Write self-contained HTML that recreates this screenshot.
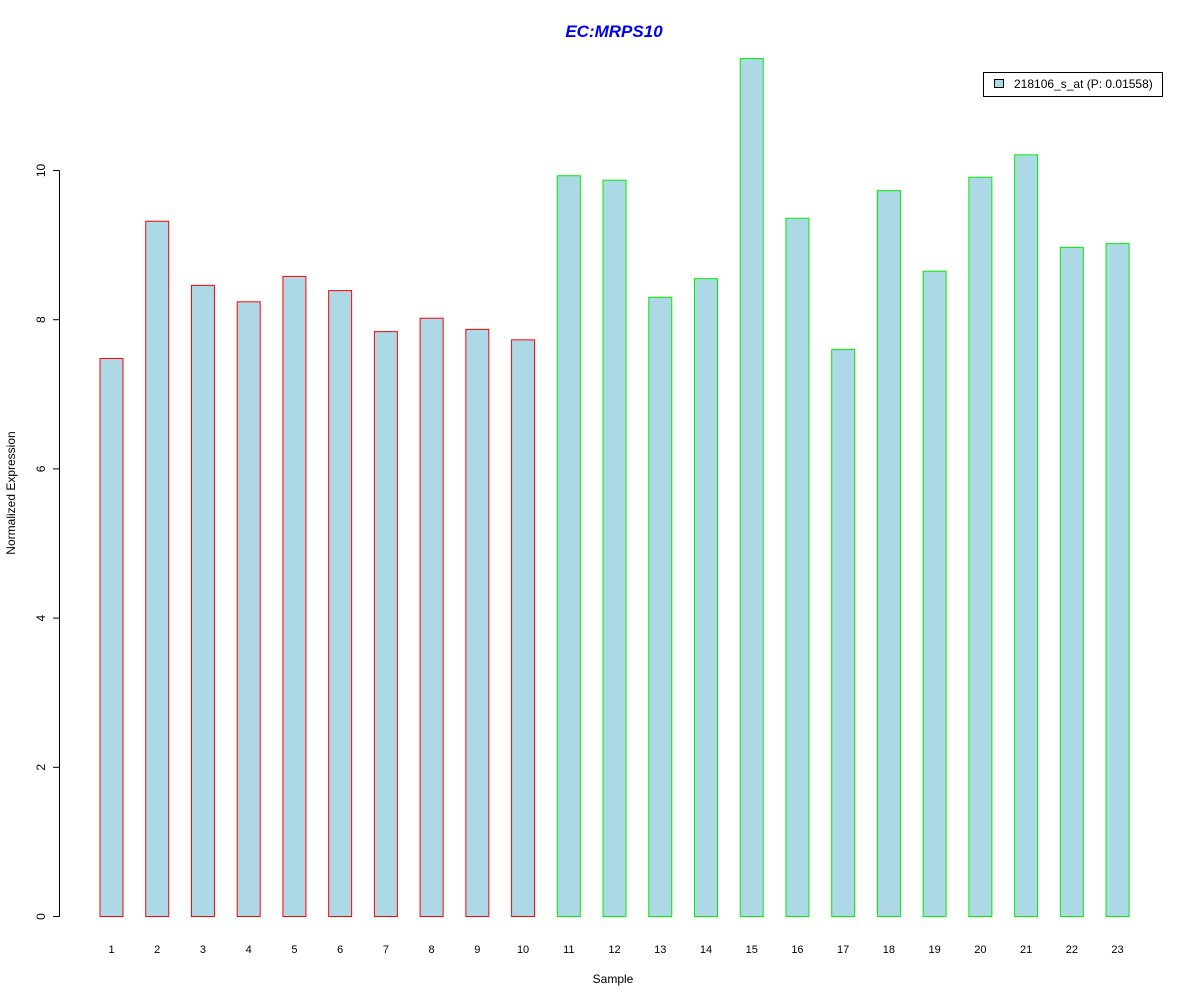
<!DOCTYPE html>
<html><head><meta charset="utf-8"><style>body{margin:0;background:#fff}svg{display:block}text{font-family:"Liberation Sans",Arial,sans-serif}</style></head>
<body>
<svg id="chart" width="1200" height="1000" xmlns="http://www.w3.org/2000/svg">
<rect width="1200" height="1000" fill="#fff"/>
<text x="614" y="37" text-anchor="middle" font-size="17" font-weight="bold" font-style="italic" fill="#0000ee">EC:MRPS10</text>
<text x="613" y="983" text-anchor="middle" font-size="12">Sample</text>
<text transform="translate(15,493) rotate(-90)" text-anchor="middle" font-size="12">Normalized Expression</text>
<g id="yaxis"></g>
<g id="bars"></g>
<g id="xlabels"></g>
<g>
<rect x="983.5" y="72.5" width="179" height="24" fill="#fff" stroke="#000"/>
<rect x="994.5" y="79.5" width="9" height="8" fill="#add8e6" stroke="#000"/>
<text x="1014" y="88" font-size="12">218106_s_at (P: 0.01558)</text>
</g>
</svg>
<script>
const categories = ["1","2","3","4","5","6","7","8","9","10","11","12","13","14","15","16","17","18","19","20","21","22","23"];
const values = [7.48,9.32,8.46,8.24,8.58,8.39,7.84,8.02,7.87,7.73,9.93,9.87,8.30,8.55,11.50,9.36,7.60,9.73,8.65,9.91,10.21,8.97,9.02];
const groups = ["a","a","a","a","a","a","a","a","a","a","b","b","b","b","b","b","b","b","b","b","b","b","b"];
const yTicks = [0,2,4,6,8,10];
const NS="http://www.w3.org/2000/svg";
const y = v => 916.5 - v*74.6;
const x = i => 111.5 + i*45.73;
function mk(tag, attrs, parent){const e=document.createElementNS(NS,tag);for(const k in attrs)e.setAttribute(k,attrs[k]);parent.appendChild(e);return e;}
const ya=document.getElementById('yaxis');
const axl=mk('line',{x1:59.5,x2:59.5,y1:y(0),y2:y(10),stroke:'#000'},ya);


yTicks.forEach(t=>{
  const l=mk('line',{x1:53,x2:59.5,y1:y(t),y2:y(t),stroke:'#000'},ya);
  
  
  const tx=mk('text',{transform:`translate(45,${y(t)}) rotate(-90)`,'text-anchor':'middle','font-size':12},ya);
  
  
  tx.textContent=t;
});
const bg=document.getElementById('bars'), xl=document.getElementById('xlabels');
values.forEach((v,i)=>{
  const r=mk('rect',{x:x(i)-11.5,y:y(v),width:23,height:y(0)-y(v),fill:'#add8e6',stroke:groups[i]==='a'?'#ff0000':'#00ee00'},bg);
  
  
  const t=mk('text',{x:x(i),y:953,'text-anchor':'middle','font-size':11},xl);
  
  
  t.textContent=categories[i];
});
</script>
</body></html>
